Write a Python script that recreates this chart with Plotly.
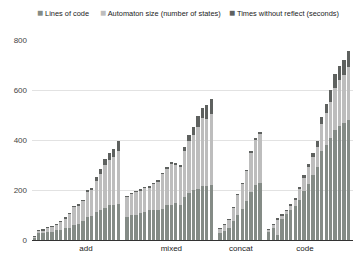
import plotly.graph_objects as go

groups = ["add", "mixed", "concat", "code"]

# Lines of code (bottom), Automaton size (middle), Times without reflect (top)
add_loc = [10, 27, 27, 31, 31, 39, 39, 49, 49, 60, 64, 76, 92, 96, 112, 121, 130, 139, 141, 145]
add_auto = [2, 9, 12, 17, 21, 23, 36, 35, 57, 75, 75, 80, 100, 107, 126, 143, 169, 183, 191, 211]
add_time = [4, 4, 4, 1, 1, 1, 1, 5, 1, 1, 4, 4, 7, 5, 14, 22, 24, 27, 32, 40]

mixed_loc = [92, 99, 101, 108, 112, 119, 119, 121, 124, 139, 140, 147, 139, 172, 189, 199, 205, 215, 217, 221]
mixed_auto = [83, 88, 94, 91, 98, 91, 107, 111, 140, 148, 164, 154, 153, 185, 206, 221, 249, 272, 266, 284]
mixed_time = [1, 1, 1, 5, 1, 5, 1, 7, 1, 7, 7, 7, 9, 17, 24, 32, 41, 40, 56, 60]

concat_loc = [29, 37, 49, 75, 102, 125, 156, 192, 219, 228]
concat_auto = [15, 24, 33, 56, 79, 99, 123, 157, 182, 195]
concat_time = [1, 1, 1, 1, 1, 4, 1, 7, 7, 8]

code_loc = [32, 49, 20, 84, 103, 120, 136, 159, 196, 224, 259, 292, 356, 381, 409, 440, 456, 468, 480]
code_auto = [8, 13, 63, 13, 15, 19, 26, 46, 54, 70, 75, 81, 107, 129, 145, 170, 183, 192, 212]
code_time = [4, 1, 4, 4, 1, 4, 5, 8, 9, 11, 15, 23, 29, 33, 45, 53, 56, 59, 64]

series_names = ["Lines of code", "Automaton size (number of states)", "Times without reflect (seconds)"]
y_ticks = [0, 200, 400, 600, 800]

colors = ["#848b86", "#bdbdbd", "#5e615f"]

loc_all = [add_loc, mixed_loc, concat_loc, code_loc]
auto_all = [add_auto, mixed_auto, concat_auto, code_auto]
time_all = [add_time, mixed_time, concat_time, code_time]

# build category positions: one empty slot between groups
xs, loc, auto, tm = [], [], [], []
idx = 0
for g in range(len(groups)):
    n = len(loc_all[g])
    xs += list(range(idx, idx + n))
    loc += loc_all[g]
    auto += auto_all[g]
    tm += time_all[g]
    idx += n + 1
n_slots = idx - 1

fig = go.Figure()
for name, vals, col in zip(series_names, [loc, auto, tm], colors):
    fig.add_trace(go.Bar(x=xs, y=vals, name=name, marker_color=col,
                         marker_line_width=0, showlegend=False))

label_pos = [11.7, 31.0, 46.7, 61.2]

# legend drawn as text entries (pixel positions in the window)
leg_x = [33, 96, 226]
annos = []
for name, col, px in zip(series_names, colors, leg_x):
    annos.append(dict(
        x=(px - 30) / 325, y=(240 - 12) / 200, xref="paper", yref="paper",
        xanchor="left", yanchor="middle", showarrow=False,
        text=f'<span style="color:{col};font-size:10px">■</span> {name}',
        font=dict(size=7.4, color="#222", family="Liberation Sans, Arial")))

# the page body has an 8px margin; size the figure so it fits the 361x259 window
fig.update_layout(
    width=353, height=251,
    margin=dict(l=22, r=6, t=32, b=19),
    barmode="stack", bargap=0.26,
    plot_bgcolor="white", paper_bgcolor="white",
    font=dict(family="Liberation Sans, Arial", size=8, color="#444"),
    annotations=annos,
    xaxis=dict(range=[-0.5, n_slots + 0.5], tickvals=label_pos, ticktext=groups,
               showgrid=False, showline=True, linecolor="#333", linewidth=1,
               ticks="", zeroline=False, tickfont=dict(size=8, color="#222")),
    yaxis=dict(range=[0, 800], tickvals=y_ticks, showgrid=True, gridcolor="#e2e2e2",
               gridwidth=1, zeroline=False, ticks="", ticklabelstandoff=4,
               tickfont=dict(size=8, color="#444")),
)

fig.write_html("out.html")
